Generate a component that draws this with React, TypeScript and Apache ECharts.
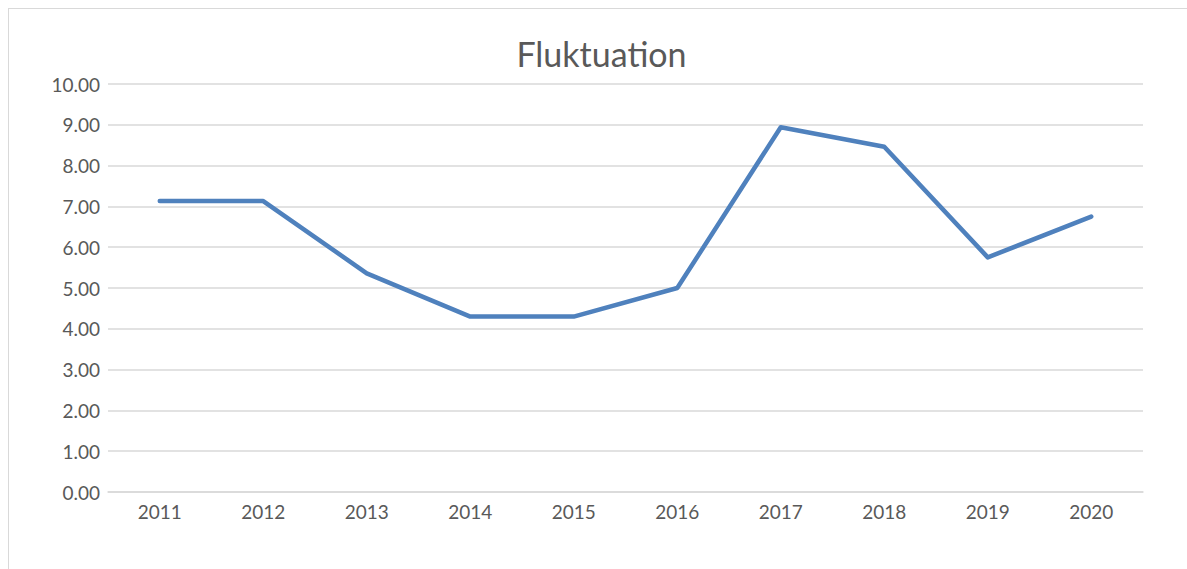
import React, { useEffect, useRef } from "react";
import * as echarts from "echarts";

const years = ["2011", "2012", "2013", "2014", "2015", "2016", "2017", "2018", "2019", "2020"];
const fluktuation = [7.13, 7.13, 5.36, 4.3, 4.3, 5.0, 8.94, 8.46, 5.75, 6.75];
const chartTitle = "Fluktuation";

export default function App() {
  const ref = useRef<HTMLDivElement>(null);
  useEffect(() => {
    if (!ref.current) return;
    const chart = echarts.init(ref.current, null, { renderer: "svg" });
    const font = "Lato, 'Open Sans', sans-serif";
    chart.setOption({
      animation: false,
      backgroundColor: "transparent",
      title: {
        text: chartTitle,
        left: "center",
        top: 31,
        textStyle: { fontFamily: font, fontSize: 34, fontWeight: "normal", color: "#595959" },
      },
      grid: { left: 108, right: 60, top: 84, bottom: 77, containLabel: false },
      xAxis: {
        type: "category",
        data: years,
        boundaryGap: true,
        axisLine: { show: true, lineStyle: { color: "#d9d9d9", width: 1.5 } },
        axisTick: { show: false },
        axisLabel: { fontFamily: font, fontSize: 19, color: "#595959", margin: 10 },
      },
      yAxis: {
        type: "value",
        min: 0,
        max: 10,
        interval: 1,
        axisLine: { show: false },
        axisTick: { show: false },
        axisLabel: {
          fontFamily: font,
          fontSize: 19,
          color: "#595959",
          margin: 8,
          formatter: (v: number) => v.toFixed(2),
        },
        splitLine: { show: true, lineStyle: { color: "#d9d9d9", width: 1.5 } },
      },
      series: [
        {
          type: "line",
          data: fluktuation,
          symbol: "none",
          smooth: false,
          lineStyle: { color: "#4f81bd", width: 4.5, cap: "round", join: "round" },
          itemStyle: { color: "#4f81bd" },
        },
      ],
    });
    return () => chart.dispose();
  }, []);
  return (
    <div style={{ position: "fixed", left: 0, top: 0, width: "100vw", height: "100vh", overflow: "hidden", background: "#fff" }}>
      <div
        style={{
          position: "absolute",
          left: 8,
          top: 8,
          width: 1200,
          height: 600,
          border: "1.5px solid #d9d9d9",
          boxSizing: "border-box",
        }}
      />
      <div ref={ref} style={{ position: "absolute", left: 0, top: 0, width: 1203, height: 569 }} />
    </div>
  );
}
